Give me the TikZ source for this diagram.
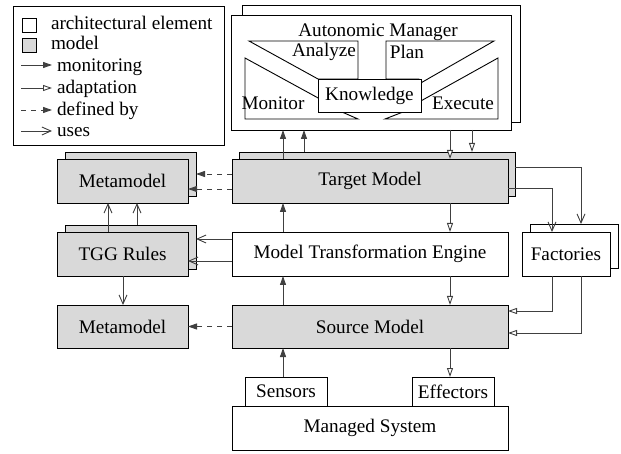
\documentclass[tikz,border=0pt]{standalone}
\usepackage{fontspec}
\setmainfont{Liberation Serif}
\usetikzlibrary{arrows.meta,calc}
\definecolor{mgray}{HTML}{D9D9D9}
\begin{document}
\begin{tikzpicture}[x=1pt,y=-1pt,
  every node/.style={font=\fontsize{19.2}{23}\selectfont, inner sep=0pt, outer sep=0pt},
  box/.style={draw=black, line width=0.9pt, fill=white, minimum height=44pt},
  model/.style={box, fill=mgray},
  amshape/.style={draw=black, line width=0.9pt},
  conn/.style={draw=black!75, line width=0.9pt},
  mon/.style={conn, -{Triangle[length=9pt,width=6pt]}},
  ada/.style={conn, -{Triangle[open,length=9pt,width=6pt,fill=white]}},
  defby/.style={conn, dash pattern=on 5pt off 5pt, -{Triangle[length=9pt,width=6pt]}},
  uses/.style={conn, -{Straight Barb[length=9pt,width=8pt]}},
]
\useasboundingbox (0,0) rectangle (621,454);

% legend
\node[box, minimum width=211pt, minimum height=139pt] (leg) at (118.5,75.5) {};
\node[box, minimum width=14pt, minimum height=14pt] (lsq1) at (29,25) {};
\node[model, minimum width=14pt, minimum height=14pt] (lsq2) at (29,45) {};
\node[anchor=base west] (lt1) at (51,30) {architectural element};
\node[anchor=base west] (lt2) at (51,50) {model};
\node[anchor=base west] (lt3) at (57,72) {monitoring};
\node[anchor=base west] (lt4) at (57,94) {adaptation};
\node[anchor=base west] (lt5) at (57,116) {defined by};
\node[anchor=base west] (lt6) at (57,137) {uses};
\coordinate (la1) at (21,65); \coordinate (lb1) at (52,65);
\coordinate (la2) at (21,88); \coordinate (lb2) at (52,88);
\coordinate (la3) at (21,110); \coordinate (lb3) at (52,110);
\coordinate (la4) at (21,131); \coordinate (lb4) at (52,131);
\draw[mon] (la1) -- (lb1);
\draw[ada] (la2) -- (lb2);
\draw[defby] (la3) -- (lb3);
\draw[uses] (la4) -- (lb4);

% autonomic manager
\node[box, minimum width=278pt, minimum height=117pt] (amb) at (381,63.5) {};
\node[box, minimum width=280pt, minimum height=115pt] (am) at (371,72.5) {};
\node (amt) at (378,32) {Autonomic Manager};
\draw[amshape] (249,41) -- (358,41) -- (358,79) -- (318,79) -- cycle;
\draw[amshape] (245,58) -- (320,99) -- (320,112) -- (342,112) -- (358,119) -- (245,119) -- cycle;
\draw[amshape] (386,79) -- (386,41) -- (494,41) -- (419,84) -- (419,79) -- cycle;
\draw[amshape] (498,58) -- (419,102) -- (419,112) -- (403,112) -- (385,119) -- (498,119) -- cycle;
\node[box, minimum width=103pt, minimum height=33pt] (kn) at (369.5,95.5) {Knowledge};
\node (an) at (324,52) {Analyze};
\node (pl) at (407,52) {Plan};
\node (mo) at (273,103) {Monitor};
\node (ex) at (463,103) {Execute};

% models and engine
\node[model, minimum width=276pt] (tmb) at (377,174) {};
\node[model, minimum width=276pt] (tm) at (370,181) {Target Model};
\node[model, minimum width=131pt] (mm1b) at (130.5,174) {};
\node[model, minimum width=131pt] (mm1) at (122.5,181) {Metamodel};
\node[model, minimum width=131pt] (tggb) at (130.5,247) {};
\node[model, minimum width=131pt] (tgg) at (122.5,254) {TGG Rules};
\node[box, minimum width=276pt] (mte) at (370,254) {Model Transformation Engine};
\node[box, minimum width=88pt] (facb) at (574,246) {};
\node[box, minimum width=88pt] (fac) at (566,254) {Factories};
\node[model, minimum width=131pt, minimum height=43pt] (mm2) at (122.5,326.5) {Metamodel};
\node[model, minimum width=276pt, minimum height=43pt] (src) at (370,326.5) {Source Model};
\node[box, minimum width=82pt, minimum height=29pt] (sens) at (286,391.5) {Sensors};
\node[box, minimum width=82pt, minimum height=29pt] (eff) at (453,391.5) {Effectors};
\node[box, minimum width=276pt] (ms) at (370,428) {Managed System};

% helper coordinates
\coordinate (xa) at (283,0);
\coordinate (xb) at (304,0);
\coordinate (xc) at (450,0);
\coordinate (xd) at (472,0);
\coordinate (x108) at (108,0);
\coordinate (x137) at (137,0);
\coordinate (x123) at (123,0);
\coordinate (x552) at (552,0);
\coordinate (x581) at (581,0);
\coordinate (y174) at (0,174);
\coordinate (y189) at (0,189);
\coordinate (y239) at (0,239);
\coordinate (y261) at (0,261);
\coordinate (y167) at (0,167);
\coordinate (y188) at (0,188);
\coordinate (y311) at (0,311);
\coordinate (y333) at (0,333);

% connectors
\draw[mon] (tm.north -| xa) -- (am.south -| xa);
\draw[mon] (tmb.north -| xb) -- (am.south -| xb);
\draw[ada] (am.south -| xc) -- (tm.north -| xc);
\draw[ada] (am.south -| xd) -- (tmb.north -| xd);
\draw[defby] (tm.west |- y174) -- (mm1b.east |- y174);
\draw[defby] (tm.west |- y189) -- (mm1.east |- y189);
\draw[uses] (tgg.north -| x108) -- (mm1.south -| x108);
\draw[uses] (tggb.north -| x137) -- (mm1.south -| x137);
\draw[uses] (mte.west |- y239) -- (tggb.east |- y239);
\draw[uses] (mte.west |- y261) -- (tgg.east |- y261);
\draw[uses] (tgg.south -| x123) -- (mm2.north -| x123);
\draw[defby] (src.west) -- (mm2.east);
\draw[mon] (mte.north -| xa) -- (tm.south -| xa);
\draw[ada] (tm.south -| xc) -- (mte.north -| xc);
\draw[ada] (mte.south -| xc) -- (src.north -| xc);
\draw[mon] (src.north -| xa) -- (mte.south -| xa);
\draw[mon] (sens.north -| xa) -- (src.south -| xa);
\draw[ada] (src.south -| xc) -- (eff.north -| xc);
\draw[uses] (tmb.east |- y167) -| (facb.north -| x581);
\draw[uses] (tm.east |- y188) -| (fac.north -| x552);
\draw[ada] (fac.south -| x552) |- (src.east |- y311);
\draw[ada] (fac.south -| x581) |- (src.east |- y333);
\end{tikzpicture}
\end{document}
